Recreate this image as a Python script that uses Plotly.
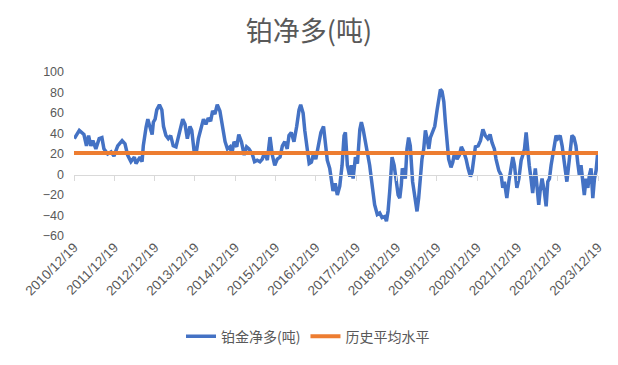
import plotly.graph_objects as go

dates = [
"2010-12-22","2011-02-05","2011-03-19","2011-04-11","2011-04-30","2011-05-21","2011-06-08","2011-07-05",
"2011-08-04","2011-08-29","2011-09-16","2011-10-20","2011-11-20","2011-12-16","2012-01-19","2012-02-28",
"2012-03-25","2012-04-18","2012-05-18","2012-06-18","2012-07-03","2012-08-08","2012-08-27","2012-09-07",
"2012-10-02","2012-10-18","2012-11-07","2012-11-26","2012-12-07","2012-12-23","2013-01-07","2013-01-31",
"2013-02-22","2013-03-09","2013-03-31","2013-04-21","2013-05-13","2013-06-05","2013-06-30","2013-07-21",
"2013-08-11","2013-08-30","2013-09-20","2013-10-11","2013-11-04","2013-11-20","2013-12-11","2013-12-29",
"2014-01-19","2014-02-10","2014-03-06","2014-03-28","2014-04-18","2014-05-10","2014-05-28","2014-06-18",
"2014-07-09","2014-08-02","2014-08-27","2014-09-18","2014-10-09","2014-11-02","2014-11-18","2014-12-08",
"2015-01-02","2015-01-20","2015-02-13","2015-03-10","2015-04-01","2015-04-22","2015-05-22","2015-06-12",
"2015-07-06","2015-07-31","2015-08-21","2015-09-12","2015-10-06","2015-10-30","2015-11-20","2015-12-12",
"2016-01-04","2016-01-29","2016-02-19","2016-03-12","2016-04-03","2016-04-19","2016-05-10","2016-06-03",
"2016-06-28","2016-07-19","2016-08-03","2016-08-25","2016-09-09","2016-09-28","2016-10-19","2016-11-08",
"2016-11-27","2016-12-18","2017-01-08","2017-02-02","2017-02-26","2017-03-15","2017-04-01","2017-04-23",
"2017-05-07","2017-05-23","2017-06-12","2017-07-01","2017-07-23","2017-08-13","2017-08-31","2017-09-12",
"2017-09-30","2017-10-22","2017-11-05","2017-11-21","2017-12-12","2017-12-30","2018-01-21","2018-02-04",
"2018-02-20","2018-03-08","2018-03-29","2018-04-20","2018-05-05","2018-05-20","2018-06-04","2018-06-28",
"2018-07-20","2018-08-10","2018-09-04","2018-09-19","2018-10-04","2018-10-19","2018-11-09","2018-11-28",
"2018-12-18","2019-01-03","2019-01-18","2019-02-01","2019-02-10","2019-03-09","2019-03-24","2019-04-08",
"2019-04-23","2019-05-02","2019-05-14","2019-06-01","2019-06-23","2019-07-08","2019-07-23","2019-08-07",
"2019-08-23","2019-09-07","2019-09-22","2019-10-08","2019-10-22","2019-11-13","2019-12-01","2019-12-22",
"2020-01-06","2020-01-21","2020-02-05","2020-02-21","2020-03-06","2020-03-21","2020-04-05","2020-04-26",
"2020-05-12","2020-05-30","2020-06-20","2020-07-11","2020-07-29","2020-08-20","2020-09-10","2020-09-28",
"2020-10-19","2020-11-03","2020-11-19","2020-12-03","2020-12-28","2021-01-18","2021-02-09","2021-03-03",
"2021-03-25","2021-04-15","2021-05-03","2021-05-24","2021-06-08","2021-07-03","2021-07-24","2021-08-08",
"2021-08-23","2021-09-14","2021-10-02","2021-10-23","2021-11-07","2021-11-22","2021-12-14","2022-01-01",
"2022-01-22","2022-02-06","2022-02-21","2022-03-08","2022-03-22","2022-04-05","2022-04-21","2022-05-06",
"2022-05-30","2022-06-11","2022-06-30","2022-07-12","2022-07-30","2022-08-20","2022-09-05","2022-09-20",
"2022-10-05","2022-10-20","2022-11-04","2022-11-19","2022-12-04","2022-12-20","2023-01-10","2023-01-28",
"2023-02-09","2023-02-28","2023-03-12","2023-03-28","2023-04-09","2023-04-27","2023-05-15","2023-06-02",
"2023-06-18","2023-07-03","2023-07-18","2023-08-02","2023-08-17","2023-09-02","2023-09-18","2023-10-02",
"2023-10-17","2023-11-02","2023-11-17","2023-12-02","2023-12-17",
]

net_long = [
35,43,39,28,38,28,33,25,
35,36,25,20,22,18,28,33,
30,19,12.5,17,10.6,17,12.5,28,
46,54,46,39,51,54,63,68,
63,47,38,35,38,28,27,36,
47,54,49,35,47,43,23,20,
35,43,54,49,55,52,62,59,
68,62,46,32,25,27,20,32,
27,39,32,19,27,25,20,12.5,
14,12.5,15,22,14,36.5,19,9,
15,17,28,32,25,38,41,32,
47,63,68,60,43,28,10.6,12,
20,15,26,41,47,32,14,6,
-7,-16,-8.7,-20,-11.5,9,38,41,
9,-2,9,-4,17,10.6,44,51,
44,35,19,9,-4,-16,-29.5,-39,
-37.5,-42,-41,-45.5,-35.6,-16,17,9,
-7,-20,-23,-10,6,-4,25,36,
28,6,-7,-20,-36,-23,-4,15,
25,43,35,25,36,41,47,63,
76,83,81,71,51,28,15,7,
12,22,15,19,27,22,15,6,
-2,2.6,19,27,28,33,44,38,
35,39,31,25,15,4,-0.6,-13,
-7,-23,-7,9,17,9,-13,-4,
14,19,25,41,19,9,-4,-18,
6,-7,-29.5,-16.6,-4,-16.6,-31,-7,
-4,9,19,28,38,35,38,28,
15,2.6,-7,9,25,38,36,28,
12,-0.6,9,-10,-20,-4,-13,-0.6,
6,-23,-4,4,22,
]

avg_dates = ["2010-12-19", "2023-12-19"]
avg_values = [21, 21]

tick_dates = [f"{y}-12-19" for y in range(2010, 2024)]
tick_text = [f"{y}/12/19" for y in range(2010, 2024)]
y_ticks = [-60, -40, -20, 0, 20, 40, 60, 80, 100]

grey = "#595959"
x_font = dict(family="Liberation Sans, sans-serif", size=13.5, color=grey)
y_font = dict(family="Liberation Sans, sans-serif", size=12.5, color=grey)

fig = go.Figure()
fig.add_trace(go.Scatter(x=dates, y=net_long, mode="lines", name="铂金净多(吨)",
                         line=dict(color="#4472C4", width=3.5)))
fig.add_trace(go.Scatter(x=avg_dates, y=avg_values, mode="lines", name="历史平均水平",
                         line=dict(color="#ED7D31", width=4)))
# invisible trace hosting the axis line drawn through y = 0
fig.add_trace(go.Scatter(x=avg_dates, y=avg_values, mode="lines", xaxis="x2",
                         line=dict(width=0), showlegend=False, hoverinfo="skip"))

xr = ["2010-12-19", "2023-12-19"]
fig.update_layout(
    width=618, height=365,
    margin=dict(l=74, r=20, t=72, b=127),
    paper_bgcolor="white", plot_bgcolor="white",
    title=dict(text="铂净多(吨)", x=0.5, xanchor="center", y=1 - 32 / 365, yanchor="middle",
               yref="container",
               font=dict(family="Noto Sans CJK SC, sans-serif", size=27, color=grey)),
    xaxis=dict(type="date", range=xr, tickvals=tick_dates, ticktext=tick_text,
               tickangle=-45, showgrid=False, showline=False, zeroline=False, ticks="",
               tickfont=x_font, automargin=False),
    xaxis2=dict(type="date", range=xr, overlaying="x", anchor="free", position=60 / 160,
                tickvals=tick_dates, showticklabels=False, ticks="outside", ticklen=5,
                tickcolor="#D9D9D9", showline=True, linecolor="#D9D9D9", linewidth=1,
                showgrid=False, zeroline=False),
    yaxis=dict(range=[-60, 100], tickvals=y_ticks, showgrid=False, zeroline=False,
               showline=False, ticks="", tickfont=y_font, domain=[0, 1],
               ticklabelstandoff=9, automargin=False),
    legend=dict(orientation="h", x=(308 - 74) / 524, xanchor="center", y=-0.614, yanchor="middle",
                font=dict(family="Noto Sans CJK SC, sans-serif", size=14, color=grey),
                tracegroupgap=0),
    showlegend=True,
)

fig.write_html("out.html", config={"displayModeBar": False},
               post_script="document.body.style.margin='0';")
